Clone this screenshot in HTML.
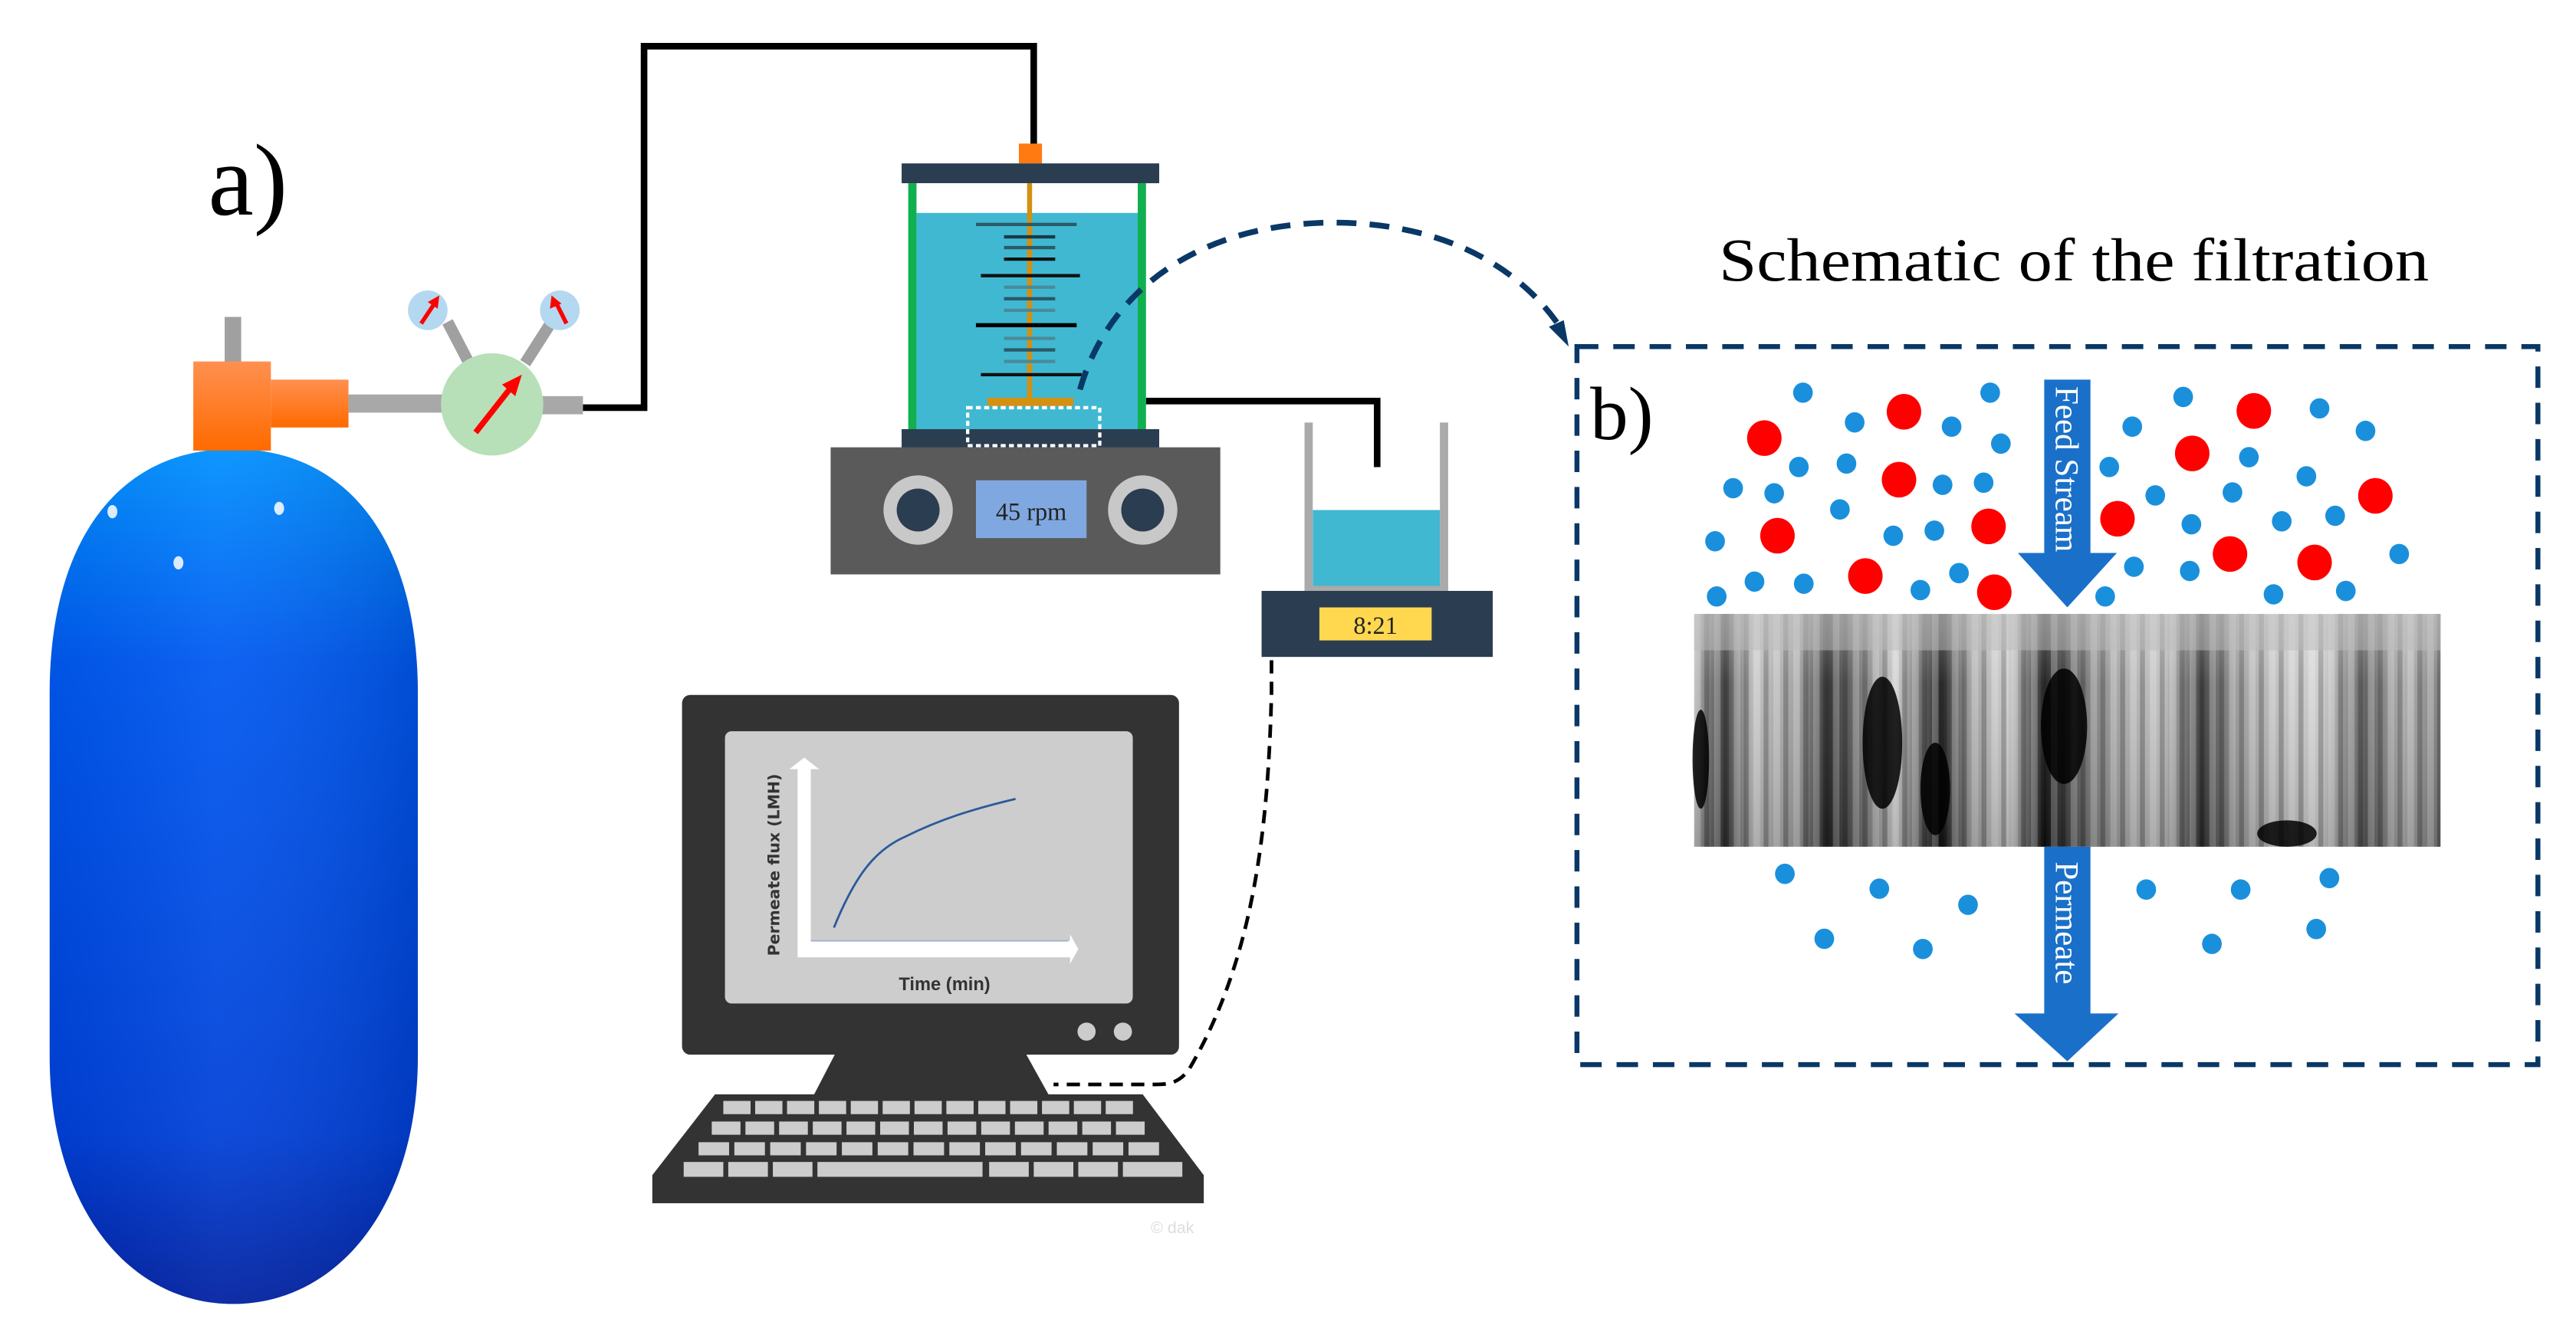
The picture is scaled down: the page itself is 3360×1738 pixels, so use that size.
<!DOCTYPE html>
<html><head><meta charset="utf-8"><style>html,body{margin:0;padding:0;background:#fff}svg{display:block}</style></head>
<body>
<svg width="3360" height="1738" viewBox="0 0 1560 807" xmlns="http://www.w3.org/2000/svg">
<defs>
<linearGradient id="tank" x1="0" y1="0" x2="0" y2="1">
<stop offset="0" stop-color="#0090ff"/><stop offset="0.25" stop-color="#0058f0"/><stop offset="0.8" stop-color="#0040d8"/><stop offset="1" stop-color="#0020a0"/></linearGradient>
<linearGradient id="tankh" x1="0" y1="0" x2="1" y2="0">
<stop offset="0" stop-color="#000" stop-opacity="0.05"/><stop offset="0.45" stop-color="#fff" stop-opacity="0.06"/><stop offset="1" stop-color="#000" stop-opacity="0.12"/></linearGradient>
<linearGradient id="orng" x1="0" y1="0" x2="0" y2="1"><stop offset="0" stop-color="#ff9050"/><stop offset="1" stop-color="#ff6a00"/></linearGradient>
<linearGradient id="mem" x1="0" y1="0" x2="1" y2="0">
<stop offset="0" stop-color="#aaa"/><stop offset="0.04" stop-color="#333"/><stop offset="0.08" stop-color="#bbb"/><stop offset="0.14" stop-color="#999"/><stop offset="0.18" stop-color="#222"/><stop offset="0.22" stop-color="#666"/><stop offset="0.27" stop-color="#c8c8c8"/><stop offset="0.33" stop-color="#111"/><stop offset="0.37" stop-color="#999"/><stop offset="0.42" stop-color="#ccc"/><stop offset="0.47" stop-color="#111"/><stop offset="0.53" stop-color="#777"/><stop offset="0.58" stop-color="#aaa"/><stop offset="0.63" stop-color="#bbb"/><stop offset="0.68" stop-color="#333"/><stop offset="0.73" stop-color="#999"/><stop offset="0.78" stop-color="#bbb"/><stop offset="0.84" stop-color="#ccc"/><stop offset="0.9" stop-color="#555"/><stop offset="0.95" stop-color="#aaa"/><stop offset="1" stop-color="#777"/></linearGradient>
<linearGradient id="memv" x1="0" y1="0" x2="0" y2="1"><stop offset="0" stop-color="#fff" stop-opacity="0.35"/><stop offset="0.3" stop-color="#fff" stop-opacity="0.1"/><stop offset="1" stop-color="#000" stop-opacity="0.15"/></linearGradient>
<pattern id="cols" width="12" height="40" patternUnits="userSpaceOnUse"><rect width="12" height="40" fill="none"/><rect x="0" width="3" height="40" fill="#000" opacity="0.25"/><rect x="6" width="4" height="40" fill="#fff" opacity="0.25"/></pattern>
</defs>

<!-- a) -->
<text x="126" y="130" font-family="Liberation Serif, serif" font-size="62">a)</text>

<!-- tank -->
<path d="M30,420 C30,330 70,272 141,272 C212,272 253,330 253,420 L253,640 C253,730 205,790 141,790 C77,790 30,730 30,640 Z" fill="url(#tank)"/>
<path d="M30,420 C30,330 70,272 141,272 C212,272 253,330 253,420 L253,640 C253,730 205,790 141,790 C77,790 30,730 30,640 Z" fill="url(#tankh)"/>
<ellipse cx="68" cy="310" rx="3" ry="4" fill="#fff" opacity="0.85"/>
<ellipse cx="169" cy="308" rx="3" ry="4" fill="#fff" opacity="0.85"/>
<ellipse cx="108" cy="341" rx="3" ry="4" fill="#fff" opacity="0.85"/>

<!-- valve -->
<rect x="136" y="192" width="10" height="28" fill="#a0a0a0"/>
<rect x="117" y="219" width="47" height="54" fill="url(#orng)"/>
<rect x="164" y="230" width="47" height="29" fill="url(#orng)"/>
<rect x="211" y="239" width="60" height="11" fill="#a8a8a8"/>
<rect x="326" y="240" width="27" height="11" fill="#a8a8a8"/>
<line x1="271" y1="195" x2="284" y2="220" stroke="#a0a0a0" stroke-width="7"/>
<line x1="334" y1="195" x2="318" y2="220" stroke="#a0a0a0" stroke-width="7"/>
<ellipse cx="298" cy="245" rx="31" ry="31" fill="#b8e0b8"/>
<line x1="288" y1="262" x2="310" y2="234" stroke="#f00" stroke-width="3.5"/>
<polygon points="316,227 304,233 312,240" fill="#f00"/>
<circle cx="259" cy="188" r="12" fill="#b4d8f0"/>
<line x1="255" y1="196" x2="263" y2="184" stroke="#f00" stroke-width="2.5"/>
<polygon points="266,179 259,183 265,187" fill="#f00"/>
<circle cx="339" cy="188" r="12" fill="#b4d8f0"/>
<line x1="343" y1="196" x2="337" y2="184" stroke="#f00" stroke-width="2.5"/>
<polygon points="334,179 333,187 340,184" fill="#f00"/>

<!-- black tubing -->
<polyline points="353,247 390,247 390,28 626,28 626,88" fill="none" stroke="#000" stroke-width="4"/>
<polyline points="694,243 834,243 834,283" fill="none" stroke="#000" stroke-width="4"/>

<!-- vessel -->
<rect x="617" y="87" width="14" height="12" fill="#ff7a10"/>
<rect x="546" y="99" width="156" height="12" fill="#2b3d50"/>
<rect x="555" y="111" width="135" height="150" fill="#fff"/>
<rect x="555" y="129" width="135" height="132" fill="#40b8d2"/>
<rect x="550" y="111" width="5" height="150" fill="#10b050"/>
<rect x="689" y="111" width="5" height="150" fill="#10b050"/>
<rect x="622" y="111" width="3" height="132" fill="#d49010"/>
<g stroke-width="2">
<line x1="591" y1="136" x2="652" y2="136" stroke="#2a5a68"/>
<line x1="608" y1="143.5" x2="639" y2="143.5" stroke="#1a3a48"/>
<line x1="608" y1="150" x2="639" y2="150" stroke="#2a5a68"/>
<line x1="608" y1="157" x2="639" y2="157" stroke="#111"/>
<line x1="594" y1="167" x2="654" y2="167" stroke="#111"/>
<line x1="608" y1="174" x2="639" y2="174" stroke="#4a8a98"/>
<line x1="608" y1="181" x2="639" y2="181" stroke="#2a5a68"/>
<line x1="608" y1="188" x2="639" y2="188" stroke="#4a8a98"/>
<line x1="591" y1="197" x2="652" y2="197" stroke="#000" stroke-width="2.5"/>
<line x1="608" y1="205" x2="639" y2="205" stroke="#4a8a98"/>
<line x1="608" y1="212" x2="639" y2="212" stroke="#2a5a68"/>
<line x1="608" y1="219" x2="639" y2="219" stroke="#4a8a98"/>
<line x1="594" y1="227" x2="655" y2="227" stroke="#111"/>
</g>
<rect x="598" y="241" width="52" height="5" fill="#d49010"/>
<rect x="546" y="260" width="156" height="12" fill="#2b3d50"/>
<rect x="586" y="247" width="80" height="23" fill="none" stroke="#fff" stroke-width="2" stroke-dasharray="3 2"/>

<!-- stirrer plate -->
<rect x="503" y="271" width="236" height="77" fill="#5a5a5a"/>
<circle cx="556" cy="309" r="21" fill="#c8c8c8"/><circle cx="556" cy="309" r="13" fill="#2b3d50"/>
<circle cx="692" cy="309" r="21" fill="#c8c8c8"/><circle cx="692" cy="309" r="13" fill="#2b3d50"/>
<rect x="591" y="291" width="67" height="35" fill="#80a8e0"/>
<text x="624.5" y="315" text-anchor="middle" font-family="Liberation Serif, serif" font-size="15" fill="#222">45 rpm</text>

<!-- beaker + balance -->
<rect x="795" y="309" width="77" height="47" fill="#40b8d2"/>
<rect x="790" y="256" width="5" height="103" fill="#aaa"/>
<rect x="872" y="256" width="5" height="103" fill="#aaa"/>
<rect x="790" y="355" width="87" height="4" fill="#aaa"/>
<rect x="764" y="358" width="140" height="40" fill="#2b3d50"/>
<rect x="799" y="368" width="68" height="20" fill="#ffd850"/>
<text x="833" y="384" text-anchor="middle" font-family="Liberation Serif, serif" font-size="15" fill="#222">8:21</text>

<!-- dashed to computer -->
<path d="M770,400 L770,420 C768,500 760,580 720,648 C714,656 708,657 700,657 L638,657" fill="none" stroke="#000" stroke-width="2.2" stroke-dasharray="8 5"/>

<!-- curved dashed arrow -->
<path d="M654,236 C670,180 720,138 800,135 C870,133 920,160 946,200" fill="none" stroke="#0a3866" stroke-width="3.5" stroke-dasharray="12 8"/>
<polygon points="950,210 938,198 947,194" fill="#0a3866"/>

<!-- computer -->
<rect x="413" y="421" width="301" height="218" rx="5" fill="#333"/>
<rect x="439" y="443" width="247" height="165" rx="4" fill="#cdcdcd"/>
<circle cx="658" cy="625" r="5.5" fill="#ccc"/><circle cx="680" cy="625" r="5.5" fill="#ccc"/>
<polygon points="506,638 621,638 636,665 492,665" fill="#333"/>
<polygon points="433,663 692,663 729,712 729,729 395,729 395,712" fill="#333"/>
<g fill="none" stroke="#ccc">
<line x1="438" y1="671" x2="688" y2="671" stroke-width="8" stroke-dasharray="16.5 2.8"/>
<line x1="431" y1="683.5" x2="696" y2="683.5" stroke-width="8" stroke-dasharray="17.4 3"/>
<line x1="423" y1="696" x2="704" y2="696" stroke-width="8" stroke-dasharray="18.5 3.2"/>
<line x1="414" y1="708.5" x2="716" y2="708.5" stroke-width="9" stroke-dasharray="24 3 24 3 24 3 100 4 24 3 24 3 24 3 36 10"/>
</g>
<!-- graph -->
<polygon points="483,466 478,466 487,459 496,466 491,466 491,570 648,570 648,566 653,575 648,584 648,580 483,580" fill="#fff"/>
<line x1="491" y1="570" x2="647" y2="570" stroke="#9ab0cc" stroke-width="0.8"/>
<path d="M505,562 C518,530 530,515 548,507 C570,496 590,490 615,484" fill="none" stroke="#2a5a9a" stroke-width="1.3"/>
<text transform="translate(472,524) rotate(-90)" text-anchor="middle" font-family="DejaVu Sans, sans-serif" font-weight="bold" font-size="9.5" fill="#333">Permeate flux (LMH)</text>
<text x="572" y="600" text-anchor="middle" font-family="Liberation Sans, sans-serif" font-weight="bold" font-size="11" fill="#333">Time (min)</text>
<text x="710" y="747" text-anchor="middle" font-family="Liberation Sans, sans-serif" font-size="10" fill="#ddd">© dak</text>

<!-- b box -->
<text x="1041" y="170" font-family="Liberation Serif, serif" font-size="37" textLength="430" lengthAdjust="spacingAndGlyphs">Schematic of the filtration</text>
<rect x="955" y="210" width="582" height="435" fill="none" stroke="#0a3866" stroke-width="3" stroke-dasharray="13 9"/>
<text x="963" y="266" font-family="Liberation Serif, serif" font-size="46">b)</text>

<!-- membrane -->
<rect x="1026" y="372" width="452" height="141" fill="url(#mem)"/>
<rect x="1026" y="372" width="452" height="141" fill="url(#cols)"/>
<rect x="1026" y="372" width="452" height="141" fill="url(#memv)"/>
<rect x="1026" y="372" width="452" height="22" fill="#bbb" opacity="0.5"/>
<g fill="#000" opacity="0.85">
<ellipse cx="1140" cy="450" rx="12" ry="40"/><ellipse cx="1172" cy="478" rx="9" ry="28"/><ellipse cx="1250" cy="440" rx="14" ry="35"/><ellipse cx="1385" cy="505" rx="18" ry="8"/><ellipse cx="1030" cy="460" rx="5" ry="30"/>
</g>

<!-- feed arrow -->
<rect x="1238" y="230" width="28" height="106" fill="#1a70c8"/>
<polygon points="1222,335 1282,335 1252,368" fill="#1a70c8"/>
<text transform="translate(1245,234) rotate(90)" font-family="Liberation Serif, serif" font-size="20" fill="#fff">Feed Stream</text>
<!-- permeate arrow -->
<rect x="1238" y="513" width="28" height="102" fill="#1a70c8"/>
<polygon points="1220,614 1283,614 1252,643" fill="#1a70c8"/>
<text transform="translate(1245,522) rotate(90)" font-family="Liberation Serif, serif" font-size="20" fill="#fff">Permeate</text>

<!-- particles feed -->
<g transform="translate(780,0) scale(0.4974,0.2572)">
<g fill="#1a90dc">
<ellipse cx="627" cy="925" rx="12" ry="24"/><ellipse cx="690" cy="995" rx="12" ry="24"/><ellipse cx="808" cy="1005" rx="12" ry="24"/><ellipse cx="855" cy="925" rx="12" ry="24"/><ellipse cx="868" cy="1045" rx="12" ry="24"/><ellipse cx="622" cy="1100" rx="12" ry="24"/><ellipse cx="680" cy="1092" rx="12" ry="24"/><ellipse cx="542" cy="1150" rx="12" ry="24"/><ellipse cx="592" cy="1162" rx="12" ry="24"/><ellipse cx="672" cy="1200" rx="12" ry="24"/><ellipse cx="797" cy="1142" rx="12" ry="24"/><ellipse cx="847" cy="1137" rx="12" ry="24"/><ellipse cx="737" cy="1262" rx="12" ry="24"/><ellipse cx="787" cy="1250" rx="12" ry="24"/><ellipse cx="520" cy="1275" rx="12" ry="24"/><ellipse cx="568" cy="1370" rx="12" ry="24"/><ellipse cx="628" cy="1375" rx="12" ry="24"/><ellipse cx="522" cy="1405" rx="12" ry="24"/><ellipse cx="770" cy="1390" rx="12" ry="24"/><ellipse cx="817" cy="1350" rx="12" ry="24"/><ellipse cx="1000" cy="1100" rx="12" ry="24"/><ellipse cx="1028" cy="1005" rx="12" ry="24"/><ellipse cx="1090" cy="935" rx="12" ry="24"/><ellipse cx="1256" cy="962" rx="12" ry="24"/><ellipse cx="1312" cy="1015" rx="12" ry="24"/><ellipse cx="1170" cy="1077" rx="12" ry="24"/><ellipse cx="1240" cy="1122" rx="12" ry="24"/><ellipse cx="1056" cy="1167" rx="12" ry="24"/><ellipse cx="1150" cy="1160" rx="12" ry="24"/><ellipse cx="1100" cy="1235" rx="12" ry="24"/><ellipse cx="1210" cy="1228" rx="12" ry="24"/><ellipse cx="1275" cy="1215" rx="12" ry="24"/><ellipse cx="1353" cy="1305" rx="12" ry="24"/><ellipse cx="1030" cy="1335" rx="12" ry="24"/><ellipse cx="1098" cy="1345" rx="12" ry="24"/><ellipse cx="995" cy="1405" rx="12" ry="24"/><ellipse cx="1200" cy="1400" rx="12" ry="24"/><ellipse cx="1288" cy="1392" rx="12" ry="24"/>
</g>
<g fill="#f00">
<ellipse cx="580" cy="1032" rx="21" ry="42"/><ellipse cx="750" cy="970" rx="21" ry="42"/><ellipse cx="744" cy="1130" rx="21" ry="42"/><ellipse cx="596" cy="1262" rx="21" ry="42"/><ellipse cx="853" cy="1240" rx="21" ry="42"/><ellipse cx="703" cy="1357" rx="21" ry="42"/><ellipse cx="860" cy="1395" rx="21" ry="42"/><ellipse cx="1176" cy="968" rx="21" ry="42"/><ellipse cx="1101" cy="1068" rx="21" ry="42"/><ellipse cx="1010" cy="1222" rx="21" ry="42"/><ellipse cx="1324" cy="1168" rx="21" ry="42"/><ellipse cx="1147" cy="1305" rx="21" ry="42"/><ellipse cx="1250" cy="1325" rx="21" ry="42"/>
</g>
</g>
<!-- particles permeate -->
<g transform="translate(780,403.4) scale(0.4974,0.2572)" fill="#1a90dc">
<ellipse cx="605" cy="490" rx="12" ry="24"/><ellipse cx="720" cy="525" rx="12" ry="24"/><ellipse cx="828" cy="563" rx="12" ry="24"/><ellipse cx="653" cy="643" rx="12" ry="24"/><ellipse cx="773" cy="667" rx="12" ry="24"/><ellipse cx="1045" cy="527" rx="12" ry="24"/><ellipse cx="1160" cy="527" rx="12" ry="24"/><ellipse cx="1268" cy="500" rx="12" ry="24"/><ellipse cx="1125" cy="655" rx="12" ry="24"/><ellipse cx="1252" cy="620" rx="12" ry="24"/>
</g>
</svg>
</body></html>
